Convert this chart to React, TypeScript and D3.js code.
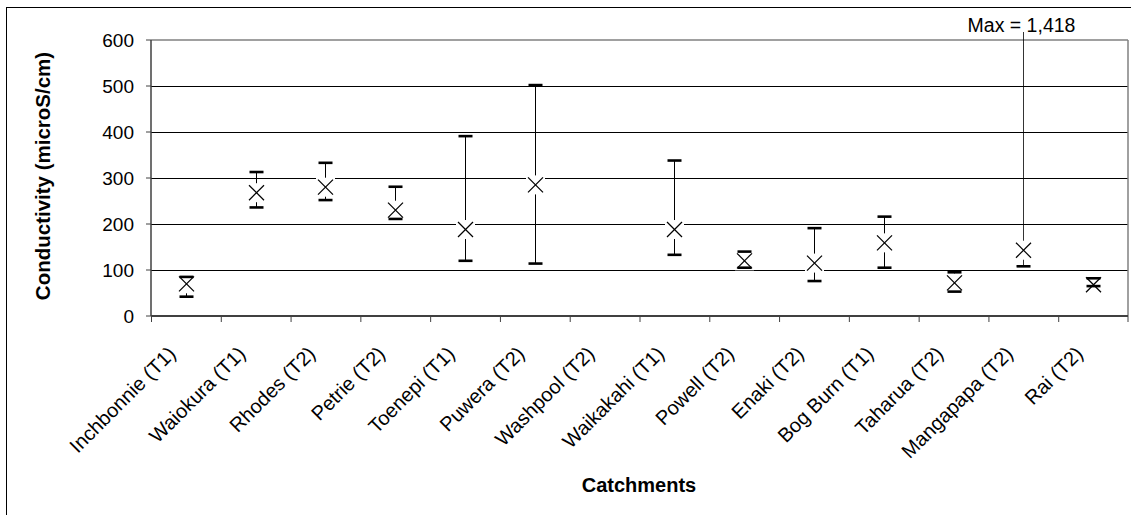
import React from "react";
import * as d3 from "d3";

const categories = [
  "Inchbonnie (T1)", "Waiokura (T1)", "Rhodes (T2)", "Petrie (T2)", "Toenepi (T1)",
  "Puwera (T2)", "Washpool (T2)", "Waikakahi (T1)", "Powell (T2)", "Enaki (T2)",
  "Bog Burn (T1)", "Taharua (T2)", "Mangapapa (T2)", "Rai (T2)",
];
const meanValues: (number | null)[] = [70, 268, 280, 230, 188, 285, null, 188, 120, 115, 159, 72, 143, 68];
const minValues: (number | null)[] = [42, 236, 252, 211, 120, 114, null, 133, 105, 76, 105, 53, 108, 65];
const maxValues: (number | null)[] = [85, 313, 333, 281, 391, 502, null, 338, 140, 191, 216, 95, 1418, 82];
const yTicks = [0, 100, 200, 300, 400, 500, 600];

const W = 1131;
const H = 515;
const L = 151, R = 1128, T = 40, B = 316;

export default function App() {
  const x = d3.scaleBand<string>().domain(categories).range([L, R]);
  const y = d3.scaleLinear().domain([0, 600]).range([B, T]);
  const bw = x.bandwidth();
  const font = "Arial, 'Liberation Sans', sans-serif";
  const maxLabelY = 32;

  return (
    <svg width={W} height={H} style={{ position: "absolute", left: 0, top: 0 }} fontFamily={font}>
      <rect x={0} y={0} width={W} height={H} fill="#fff" />
      <rect x={6.5} y={7.5} width={W + 10} height={H + 10} fill="none" stroke="#000" strokeWidth={1} />
      {/* gridlines */}
      {yTicks.filter((t) => t > 0 && t < 600).map((t) => (
        <line key={t} x1={L} x2={R} y1={Math.round(y(t)) + 0.5} y2={Math.round(y(t)) + 0.5} stroke="#000" strokeWidth={1} />
      ))}
      {/* plot border top/right */}
      <line x1={L} x2={R} y1={T} y2={T} stroke="#808080" strokeWidth={1.5} />
      <line x1={R} x2={R} y1={T} y2={B} stroke="#808080" strokeWidth={1.5} />
      {/* axes */}
      <line x1={L} x2={L} y1={T} y2={B} stroke="#404040" strokeWidth={1.5} />
      <line x1={L} x2={R} y1={B} y2={B} stroke="#404040" strokeWidth={1.8} />
      {yTicks.map((t) => (
        <g key={t}>
          <line x1={L - 5} x2={L} y1={y(t)} y2={y(t)} stroke="#404040" strokeWidth={1} />
          <text x={134} y={y(t)} dy="0.36em" textAnchor="end" fontSize={19} fill="#000">{t}</text>
        </g>
      ))}
      {categories.map((c, i) => (
        <line key={"t" + i} x1={(x(c) as number) + 0.5} x2={(x(c) as number) + 0.5} y1={B} y2={B + 6} stroke="#404040" strokeWidth={1} />
      ))}
      <line x1={R} x2={R} y1={B} y2={B + 6} stroke="#404040" strokeWidth={1} />
      {/* category labels */}
      {categories.map((c, i) => {
        const cx = (x(c) as number) + bw / 2;
        const px = cx - 9;
        const py = 355;
        return (
          <text key={"l" + i} x={px} y={py} textAnchor="end" fontSize={20} fill="#000" transform={`rotate(-45 ${px} ${py})`}>{c}</text>
        );
      })}
      {/* data */}
      {categories.map((c, i) => {
        const m = meanValues[i];
        const lo = minValues[i];
        const hi = maxValues[i];
        if (m == null || lo == null || hi == null) return null;
        const cx = Math.round((x(c) as number) + bw / 2) + 0.5;
        const yHi = hi > 600 ? maxLabelY : y(hi);
        const yLo = y(lo);
        const ym = y(m);
        const s = 7.5;
        const box = 9.5;
        return (
          <g key={"d" + i}>
            <line x1={cx} x2={cx} y1={yHi} y2={yLo} stroke="#000" strokeWidth={hi > 600 ? 0.8 : 1} />
            <rect x={cx - box} y={ym - box} width={box * 2} height={box * 2} fill="#fff" />
            <line x1={cx - s} x2={cx + s} y1={ym - s} y2={ym + s} stroke="#000" strokeWidth={1.2} />
            <line x1={cx - s} x2={cx + s} y1={ym + s} y2={ym - s} stroke="#000" strokeWidth={1.2} />
            {hi <= 600 && <line x1={cx - 7} x2={cx + 7} y1={yHi} y2={yHi} stroke="#000" strokeWidth={2.6} />}
            <line x1={cx - 7} x2={cx + 7} y1={yLo} y2={yLo} stroke="#000" strokeWidth={2.6} />
            {hi > 600 && (
              <text x={cx - 2} y={maxLabelY} textAnchor="middle" fontSize={19.5} fill="#000">
                {"Max = " + d3.format(",")(hi)}
              </text>
            )}
          </g>
        );
      })}
      {/* axis titles */}
      <text x={639} y={492} textAnchor="middle" fontSize={20} fontWeight="bold" fill="#000">Catchments</text>
      <text x={50} y={176} textAnchor="middle" fontSize={20.5} fontWeight="bold" fill="#000" transform="rotate(-90 50 176)">Conductivity (microS/cm)</text>
    </svg>
  );
}
